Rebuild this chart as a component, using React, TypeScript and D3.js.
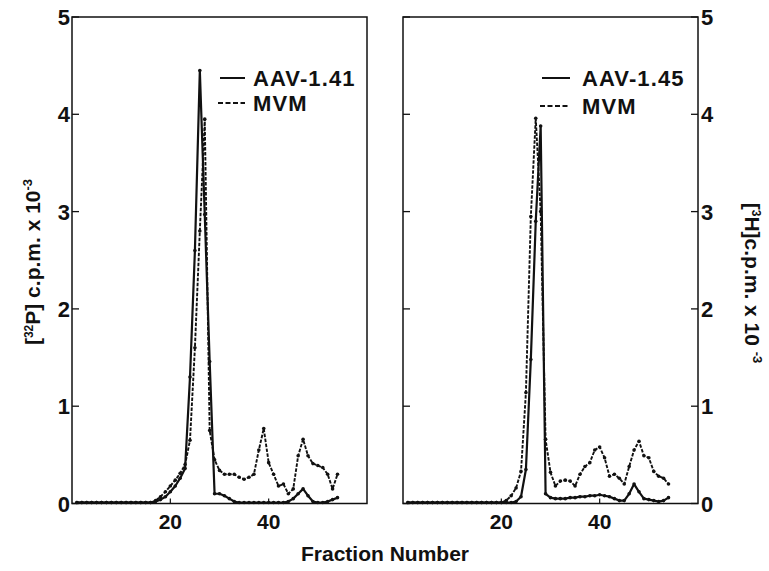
import React from 'react';
import * as d3 from 'd3';

const fractions = [1,2,3,4,5,6,7,8,9,10,11,12,13,14,15,16,17,18,19,20,21,22,23,24,25,26,27,28,29,30,31,32,33,34,35,36,37,38,39,40,41,42,43,44,45,46,47,48,49,50,51,52,53,54];

const leftAAV = [0.01,0.01,0.01,0.01,0.01,0.01,0.01,0.01,0.01,0.01,0.01,0.01,0.01,0.01,0.01,0.01,
  0.02,0.04,0.07,0.12,0.18,0.26,0.36,1.3,2.6,4.45,2.97,1.46,0.1,0.1,0.08,0.05,0.02,0.01,0.01,0.01,0.01,0.01,0.01,0.01,0.01,0.01,0.01,0.02,0.05,0.1,0.15,0.08,0.02,0.01,0.01,0.02,0.04,0.06];
const leftMVM = [0.01,0.01,0.01,0.01,0.01,0.01,0.01,0.01,0.01,0.01,0.01,0.01,0.01,0.01,0.01,0.01,
  0.03,0.07,0.12,0.18,0.24,0.31,0.4,0.65,1.6,2.8,3.95,0.75,0.45,0.34,0.3,0.3,0.3,0.27,0.25,0.27,0.3,0.55,0.77,0.42,0.3,0.18,0.2,0.1,0.15,0.49,0.66,0.49,0.41,0.39,0.37,0.3,0.15,0.3];
const rightAAV = [0.01,0.01,0.01,0.01,0.01,0.01,0.01,0.01,0.01,0.01,0.01,0.01,0.01,0.01,0.01,0.01,0.01,0.01,0.01,0.01,0.01,
  0.01,0.02,0.07,0.35,1.48,2.9,3.88,0.1,0.06,0.05,0.05,0.05,0.06,0.06,0.07,0.07,0.08,0.08,0.09,0.08,0.07,0.05,0.03,0.03,0.1,0.2,0.12,0.05,0.04,0.03,0.02,0.03,0.06];
const rightMVM = [0.01,0.01,0.01,0.01,0.01,0.01,0.01,0.01,0.01,0.01,0.01,0.01,0.01,0.01,0.01,0.01,0.01,0.01,0.01,
  0.01,0.03,0.08,0.16,0.33,1.14,2.95,3.96,3.0,0.66,0.32,0.18,0.23,0.24,0.23,0.18,0.3,0.38,0.42,0.55,0.58,0.47,0.28,0.3,0.26,0.2,0.38,0.55,0.64,0.49,0.47,0.33,0.28,0.26,0.2];

const yTicks = [0, 1, 2, 3, 4, 5];
const xTicks = [20, 40];
const legendLeft = ['AAV-1.41', 'MVM'];
const legendRight = ['AAV-1.45', 'MVM'];

const FONT = '"Liberation Sans", Arial, Helvetica, sans-serif';
const Y0 = 503.5, Y5 = 17;
const yScale = d3.scaleLinear().domain([0, 5]).range([Y0, Y5]);

function Series({ x, values, dashed }: { x: any; values: number[]; dashed: boolean }) {
  const line = d3.line<number>().x((_, i) => x(fractions[i])).y((d) => yScale(d));
  return (
    <g>
      <path d={line(values) || ''} fill="none" stroke="#111" strokeWidth={dashed ? 1.9 : 2.2}
        strokeDasharray={dashed ? '3.5,1.5' : undefined} strokeLinejoin="round" />
      {values.map((v, i) => (
        <circle key={i} cx={x(fractions[i])} cy={yScale(v)} r={1.8} fill="#111" />
      ))}
    </g>
  );
}

function Panel({ x0, x1, aav, mvm, legend, side, lg }: any) {
  const x = d3.scaleLinear().domain([0, 60]).range([x0, x1]);
  return (
    <g>
      <rect x={x0} y={Y5} width={x1 - x0} height={Y0 - Y5} fill="none" stroke="#111" strokeWidth={1.5} />
      {yTicks.map((t) => (
        <g key={t}>
          {side === 'left' ? (
            <>
              <line x1={x0} x2={x0 + 7} y1={yScale(t)} y2={yScale(t)} stroke="#111" strokeWidth={1.3} />
              <text x={x0 - 2} y={yScale(t) + 8} textAnchor="end" fontSize={22} fontWeight="bold" fontFamily={FONT} fill="#111">{t}</text>
            </>
          ) : (
            <>
              <line x1={x1} x2={x1 - 7} y1={yScale(t)} y2={yScale(t)} stroke="#111" strokeWidth={1.3} />
              <line x1={x0} x2={x0 + 7} y1={yScale(t)} y2={yScale(t)} stroke="#111" strokeWidth={1.3} />
              <text x={x1 + 3} y={yScale(t) + 8} textAnchor="start" fontSize={22} fontWeight="bold" fontFamily={FONT} fill="#111">{t}</text>
            </>
          )}
        </g>
      ))}
      {xTicks.map((t) => (
        <g key={t}>
          <line x1={x(t)} x2={x(t)} y1={Y0} y2={Y0 - 5} stroke="#111" strokeWidth={1.2} />
          <text x={x(t)} y={Y0 + 25} textAnchor="middle" fontSize={21} fontWeight="bold" fontFamily={FONT} fill="#111">{t}</text>
        </g>
      ))}
      <Series x={x} values={mvm} dashed={true} />
      <Series x={x} values={aav} dashed={false} />
      <g>
        <line x1={lg.lx0} x2={lg.lx1} y1={lg.y1} y2={lg.y1} stroke="#111" strokeWidth={2} />
        <text x={lg.tx} y={lg.y1 + 8} fontSize={22} fontWeight="bold" fontFamily={FONT} letterSpacing={1.1} fill="#111">{legend[0]}</text>
        <line x1={lg.lx0 - 2} x2={lg.lx1} y1={lg.y2} y2={lg.y2} stroke="#111" strokeWidth={1.8} strokeDasharray="5,2.5" />
        <text x={lg.tx} y={lg.y2 + 8} fontSize={22} fontWeight="bold" fontFamily={FONT} letterSpacing={1.1} fill="#111">{legend[1]}</text>
      </g>
    </g>
  );
}

export default function App() {
  return (
    <svg width={769} height={571} style={{ position: 'absolute', left: 0, top: 0, background: '#fff' }}>
      <rect x={0} y={0} width={769} height={571} fill="#fff" />
      <Panel x0={72} x1={367} aav={leftAAV} mvm={leftMVM} legend={legendLeft} side="left"
        lg={{ lx0: 220, lx1: 245, tx: 253, y1: 78, y2: 103 }} />
      <Panel x0={403} x1={698} aav={rightAAV} mvm={rightMVM} legend={legendRight} side="right"
        lg={{ lx0: 542, lx1: 570, tx: 582, y1: 78, y2: 106 }} />
      <text transform="translate(40,262) rotate(-90)" textAnchor="middle" fontSize={21} fontWeight="bold" fontFamily={FONT} fill="#111">
        <tspan>[</tspan><tspan fontSize={12} dy={-7}>32</tspan><tspan dy={7}>P] c.p.m. x 10</tspan><tspan fontSize={13} dy={-8}>-3</tspan>
      </text>
      <text transform="translate(745,283) rotate(90)" textAnchor="middle" fontSize={21} fontWeight="bold" fontFamily={FONT} fill="#111">
        <tspan>[</tspan><tspan fontSize={12} dy={-7}>3</tspan><tspan dy={7}>H]c.p.m. x 10 </tspan><tspan fontSize={13} dy={-8}>-3</tspan>
      </text>
      <text x={385} y={561} textAnchor="middle" fontSize={21} fontWeight="bold" fontFamily={FONT} fill="#111">Fraction Number</text>
    </svg>
  );
}
